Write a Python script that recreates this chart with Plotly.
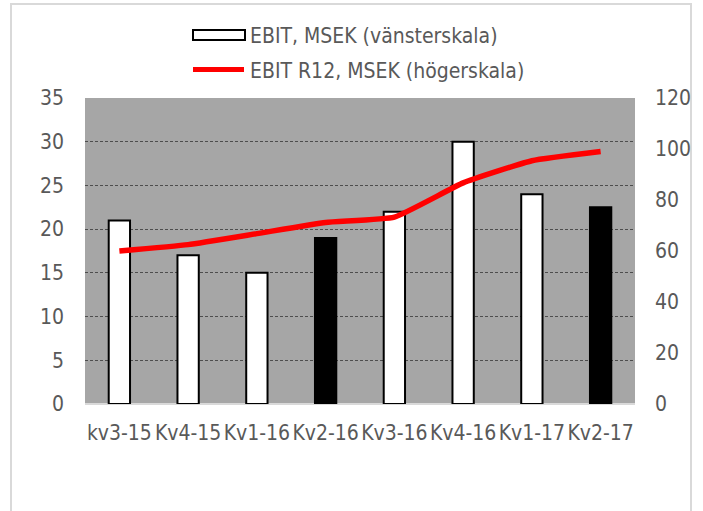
import plotly.graph_objects as go

categories = ["kv3-15", "Kv4-15", "Kv1-16", "Kv2-16", "Kv3-16", "Kv4-16", "Kv1-17", "Kv2-17"]
ebit = [21, 17, 15, 19, 22, 30, 24, 22.5]
ebit_r12 = [60, 62.5, 66.8, 71.2, 73.3, 86.7, 95.4, 99]
bar_colors = ["white", "white", "white", "black", "white", "white", "white", "black"]

W, H = 703, 511
L, R, T, B = 85, 635, 98, 404
FONT = "Liberation Sans Narrow, DejaVu Sans Condensed, sans-serif"
TXT = "#595959"
FS = 21

def px(x):
    return (x - L) / (R - L)

def py(y):
    return (B - y) / (B - T)

fig = go.Figure()
fig.add_trace(go.Bar(
    x=categories, y=ebit, name="EBIT, MSEK (vänsterskala)",
    marker=dict(color=bar_colors, line=dict(color="black", width=2)),
    width=0.31, showlegend=False,
))
fig.add_trace(go.Scatter(
    x=categories, y=ebit_r12, name="EBIT R12, MSEK (högerskala)", yaxis="y2",
    mode="lines", line=dict(color="#ff0000", width=5.5, shape="spline", smoothing=0.4),
    showlegend=False,
))

shapes = [
    dict(type="rect", xref="paper", yref="paper",
         x0=px(11), x1=px(691), y0=py(530), y1=py(4),
         line=dict(color="#d9d9d9", width=2), fillcolor="rgba(0,0,0,0)", layer="below"),
    dict(type="rect", xref="paper", yref="paper",
         x0=px(193), x1=px(245), y0=py(40), y1=py(30),
         line=dict(color="black", width=2), fillcolor="white"),
    dict(type="line", xref="paper", yref="paper",
         x0=px(193), x1=px(244), y0=py(69.5), y1=py(69.5),
         line=dict(color="#ff0000", width=5)),
]
annotations = [
    dict(text="EBIT, MSEK (vänsterskala)", xref="paper", yref="paper",
         x=px(248), y=py(35.5), xanchor="left", yanchor="middle", showarrow=False,
         font=dict(family=FONT, size=FS, color=TXT)),
    dict(text="EBIT R12, MSEK (högerskala)", xref="paper", yref="paper",
         x=px(248), y=py(71), xanchor="left", yanchor="middle", showarrow=False,
         font=dict(family=FONT, size=FS, color=TXT)),
]

fig.update_layout(
    width=W, height=H,
    margin=dict(l=L, r=W - R, t=T, b=H - B, autoexpand=False),
    paper_bgcolor="white", plot_bgcolor="#a6a6a6",
    font=dict(family=FONT, size=FS, color=TXT),
    xaxis=dict(showgrid=False, ticks="", showline=False, zeroline=False, automargin=False,
               tickfont=dict(family=FONT, size=FS, color=TXT), ticklabelstandoff=14),
    yaxis=dict(range=[0, 35], dtick=5, showgrid=True, gridcolor="#4d4d4d",
               griddash="3px,2px", gridwidth=1, zeroline=True, zerolinecolor="#d9d9d9",
               zerolinewidth=2, showline=False, ticks="", automargin=False,
               tickfont=dict(family=FONT, size=FS, color=TXT), ticklabelstandoff=20),
    yaxis2=dict(range=[0, 120], dtick=20, overlaying="y", side="right", automargin=False,
                showgrid=False, zeroline=False, showline=False, ticks="",
                tickfont=dict(family=FONT, size=FS, color=TXT), ticklabelstandoff=19),
    shapes=shapes, annotations=annotations,
)

fig.write_html("out.html", config={"displayModeBar": False},
               post_script="document.body.style.margin='0px';")
